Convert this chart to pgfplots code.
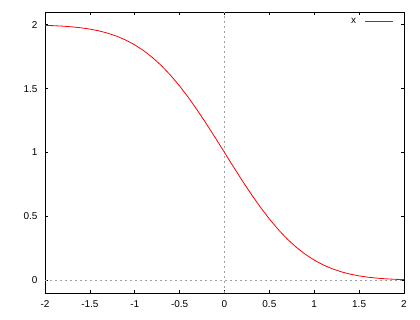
\documentclass[border=0pt]{standalone}
\usepackage{fontspec}
\setmainfont{Liberation Sans}
\usepackage{pgfplots}
\pgfplotsset{compat=1.18}
\definecolor{zerogray}{HTML}{A0A0A0}
\begin{document}
\fontsize{10}{12}\selectfont
\begin{tikzpicture}[x=1bp,y=1bp]
\useasboundingbox (0,0) rectangle (420,320);
\begin{axis}[
  at={(45bp,27bp)}, anchor=south west,
  scale only axis, width=359bp, height=281bp,
  xmin=-2, xmax=2, ymin=-0.1, ymax=2.1,
  xtick={-2,-1.5,-1,-0.5,0,0.5,1,1.5,2},
  ytick={0,0.5,1,1.5,2},
  tick align=inside, major tick length=3bp,
  tick style={black, line width=0.6bp},
  axis line style={black, line width=0.7bp},
  /pgf/number format/assume math mode=true,
  ticklabel style={font=\fontsize{10}{12}\selectfont},
  yticklabel style={xshift=-4bp},
  xticklabel style={yshift=-4bp},
  legend style={draw=none, fill=none, at={(1,1)}, anchor=north east,
    xshift=-7bp, yshift=-2bp, font=\fontsize{10}{12}\selectfont,
    /tikz/every odd column/.append style={column sep=7bp}},
  legend plot pos=right,
  legend image code/.code={\draw[#1] (0bp,0bp) -- (28bp,0bp);},
]
\addplot[forget plot, color=zerogray, line width=0.6bp, dash pattern=on 2bp off 3bp] coordinates {(0,-0.1) (0,2.1)};
\addplot[forget plot, color=zerogray, line width=0.6bp, dash pattern=on 2bp off 3bp] coordinates {(-2,0) (2,0)};
\addplot[red, line width=0.8bp] coordinates {
(-2.0,1.995322) (-1.9,1.992790) (-1.8,1.989091) (-1.7,1.983790) (-1.6,1.976348)
(-1.5,1.966105) (-1.4,1.952285) (-1.3,1.934008) (-1.2,1.910314) (-1.1,1.880205)
(-1.0,1.842701) (-0.9,1.796908) (-0.8,1.742101) (-0.7,1.677801) (-0.6,1.603856)
(-0.5,1.520500) (-0.4,1.428392) (-0.3,1.328627) (-0.2,1.222703) (-0.1,1.112463)
(0.0,1.000000)
(0.1,0.887537) (0.2,0.777297) (0.3,0.671373) (0.4,0.571608) (0.5,0.479500)
(0.6,0.396144) (0.7,0.322199) (0.8,0.257899) (0.9,0.203092) (1.0,0.157299)
(1.1,0.119795) (1.2,0.089686) (1.3,0.065992) (1.4,0.047715) (1.5,0.033895)
(1.6,0.023652) (1.7,0.016210) (1.8,0.010909) (1.9,0.007210) (2.0,0.004678)
};
\addlegendentry{x}
\end{axis}
\end{tikzpicture}
\end{document}
